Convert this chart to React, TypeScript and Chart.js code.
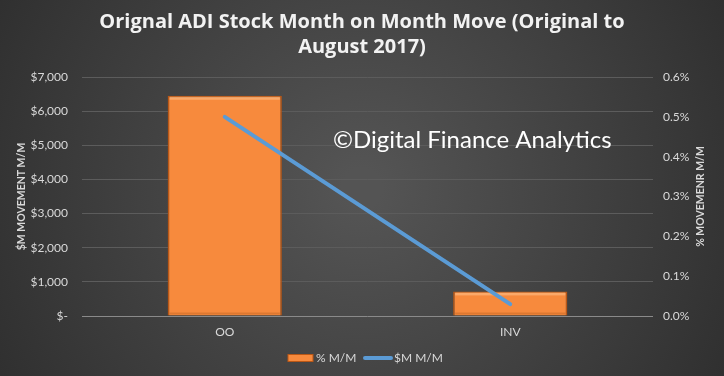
import React, { useEffect, useRef } from "react";
import { Chart, registerables } from "chart.js";

Chart.register(...registerables);

const categories = ["OO", "INV"];
const barLabel = "% M/M";
const lineLabel = "$M M/M";
const barValues = [6450, 720]; // $M
const lineValues = [0.005, 0.0003]; // fraction
const titleLines = ["Orignal ADI Stock Month on Month Move (Original to", "August 2017)"];
const leftTitle = "$M MOVEMENT M/M";
const rightTitle = "% MOVEMENR M/M";
const watermark = "©Digital Finance Analytics";

const BAR_COLOR = "#f78a3d";
const BAR_BORDER = "#b95716";
const LINE_COLOR = "#5b9bd5";
const TICK = "#d9d9d9";

const bgPlugin = {
  id: "bg",
  beforeDraw(chart: any) {
    const { ctx, width, height } = chart;
    ctx.save();
    const g = ctx.createRadialGradient(width / 2, height / 2, 20, width / 2, height / 2, width * 0.62);
    g.addColorStop(0, "#545454");
    g.addColorStop(1, "#2c2c2c");
    ctx.fillStyle = g;
    ctx.fillRect(0, 0, width, height);
    ctx.restore();
  },
  afterDatasetDraw(chart: any, args: any) {
    const meta = args.meta;
    if (meta.type !== "bar") return;
    const { ctx } = chart;
    ctx.save();
    meta.data.forEach((el: any) => {
      const half = el.width / 2;
      const x0 = el.x - half + 2;
      const x1 = el.x + half - 2;
      ctx.fillStyle = "rgba(255,200,150,0.5)";
      ctx.fillRect(x0, el.y + 1, x1 - x0, 3);
      ctx.fillStyle = "rgba(120,50,0,0.2)";
      ctx.fillRect(x0, el.base - 3, x1 - x0, 2);
    });
    ctx.restore();
  },
  afterDatasetsDraw(chart: any) {
    const { ctx, chartArea } = chart;
    ctx.save();
    // watermark
    ctx.font = "24px Lato, 'Open Sans', sans-serif";
    ctx.fillStyle = "#ffffff";
    ctx.textBaseline = "middle";
    ctx.textAlign = "left";
    ctx.fillText(watermark, 333, 140);
    // axis titles
    const midY = (chartArea.top + chartArea.bottom) / 2;
    ctx.font = "bold 10.5px Lato, sans-serif";
    ctx.fillStyle = TICK;
    ctx.textAlign = "center";
    ctx.save();
    ctx.translate(22, midY);
    ctx.rotate(-Math.PI / 2);
    ctx.fillText(leftTitle, 0, 0);
    ctx.restore();
    ctx.save();
    ctx.translate(701, midY);
    ctx.rotate(-Math.PI / 2);
    ctx.fillText(rightTitle, 0, 0);
    ctx.restore();
    // legend
    const ly = 358;
    ctx.fillStyle = BAR_COLOR;
    ctx.strokeStyle = BAR_BORDER;
    ctx.lineWidth = 1;
    ctx.fillRect(288, ly - 3.5, 25, 7);
    ctx.strokeRect(288, ly - 3.5, 25, 7);
    ctx.font = "12px Lato, sans-serif";
    ctx.fillStyle = TICK;
    ctx.textAlign = "left";
    ctx.fillText(barLabel, 316, ly);
    ctx.strokeStyle = LINE_COLOR;
    ctx.lineWidth = 4;
    ctx.lineCap = "round";
    ctx.beginPath();
    ctx.moveTo(365, ly);
    ctx.lineTo(391, ly);
    ctx.stroke();
    ctx.fillText(lineLabel, 394, ly);
    ctx.restore();
  },
};

export default function App() {
  const ref = useRef<HTMLCanvasElement | null>(null);
  useEffect(() => {
    document.body.style.margin = "0";
    const chart = new Chart(ref.current!, {
      type: "bar",
      data: {
        labels: categories,
        datasets: [
          {
            type: "line",
            label: lineLabel,
            data: lineValues,
            yAxisID: "y1",
            borderColor: LINE_COLOR,
            backgroundColor: LINE_COLOR,
            borderWidth: 4,
            borderCapStyle: "round",
            pointRadius: 0,
            order: 0,
          } as any,
          {
            type: "bar",
            label: barLabel,
            data: barValues,
            yAxisID: "y",
            backgroundColor: BAR_COLOR,
            borderColor: BAR_BORDER,
            borderWidth: 1.5,
            barPercentage: 0.4,
            categoryPercentage: 1,
            order: 1,
          } as any,
        ],
      },
      options: {
        animation: false,
        responsive: false,
        maintainAspectRatio: false,
        layout: { padding: { left: 0, right: 0, top: 0, bottom: 30 } },
        plugins: {
          title: {
            display: true,
            text: titleLines,
            color: "#f2f2f2",
            font: { family: "'Open Sans', sans-serif", size: 20, weight: "bold", lineHeight: 1.25 },
            padding: { top: 10, bottom: 17 },
          },
          legend: { display: false },
          tooltip: { enabled: false },
        },
        scales: {
          x: {
            grid: { display: false },
            border: { display: false },
            ticks: { color: TICK, font: { family: "Lato, sans-serif", size: 12 }, padding: 1 },
            afterFit: (s: any) => {
              s.height = 30;
            },
          },
          y: {
            position: "left",
            min: 0,
            max: 7000,
            ticks: {
              stepSize: 1000,
              color: TICK,
              padding: 14,
              font: { family: "Lato, sans-serif", size: 12 },
              callback: (v: any) => (v === 0 ? "$-" : "$" + Number(v).toLocaleString("en-US")),
            },
            grid: {
              color: (c: any) => (c.tick && c.tick.value === 0 ? "#8a8a8a" : "#5c5c5c"),
              drawTicks: false,
            },
            border: { display: false },
            afterFit: (s: any) => {
              s.width = 82;
            },
          },
          y1: {
            position: "right",
            min: 0,
            max: 0.006,
            ticks: {
              stepSize: 0.001,
              color: TICK,
              padding: 10,
              font: { family: "Lato, sans-serif", size: 12 },
              callback: (v: any) => (Number(v) * 100).toFixed(1) + "%",
            },
            grid: { display: false, drawTicks: false },
            border: { display: false },
            afterFit: (s: any) => {
              s.width = 71;
            },
          },
        },
      },
      plugins: [bgPlugin],
    });
    return () => chart.destroy();
  }, []);
  return <canvas ref={ref} width={724} height={376} style={{ display: "block" }} />;
}
